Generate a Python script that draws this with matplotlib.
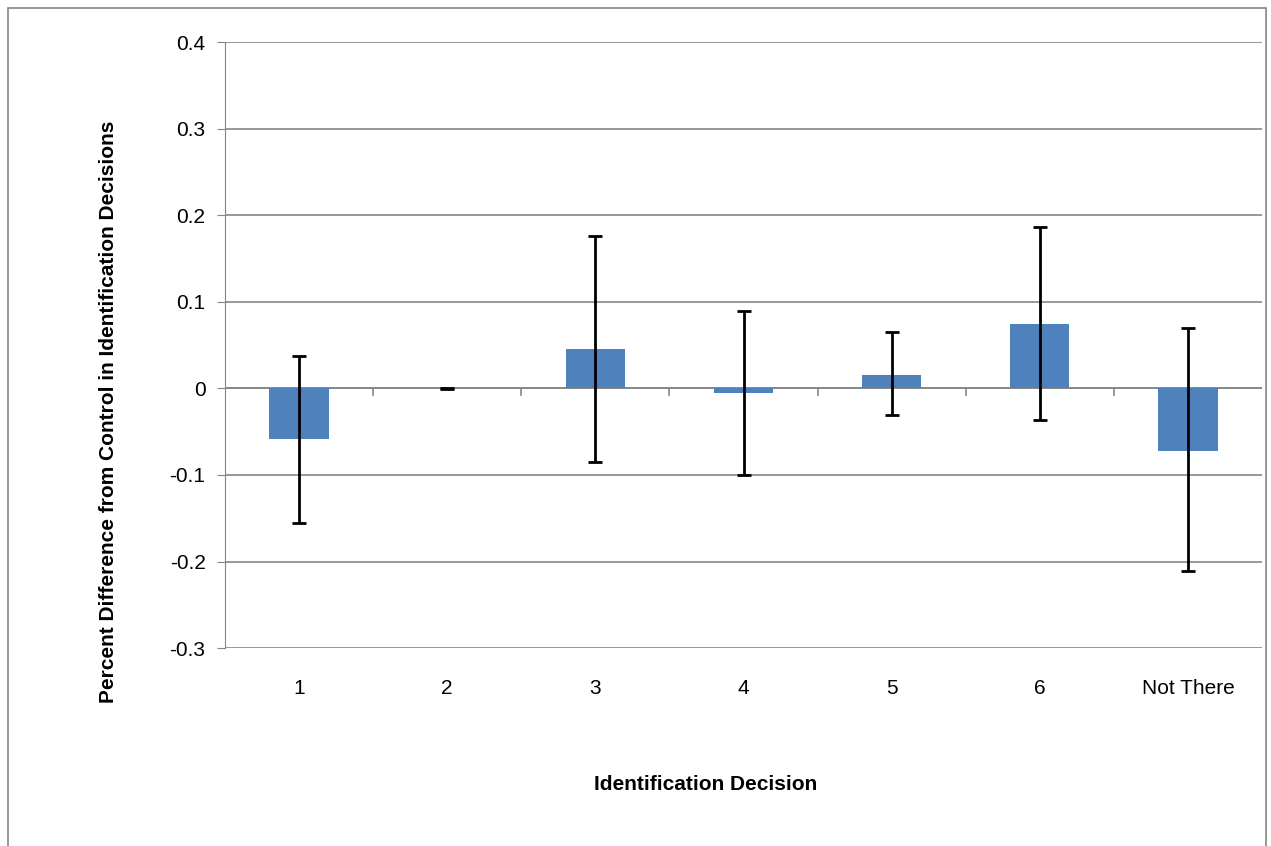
import matplotlib
matplotlib.use("Agg")
import matplotlib.pyplot as plt
import numpy as np

categories = ["1", "2", "3", "4", "5", "6", "Not There"]
values = [-0.059, 0.0, 0.045, -0.005, 0.016, 0.074, -0.072]
err_low = [-0.156, -0.001, -0.085, -0.100, -0.031, -0.037, -0.211]
err_high = [0.037, 0.001, 0.176, 0.090, 0.065, 0.186, 0.070]

plt.rcParams['font.family'] = ['Liberation Sans', 'DejaVu Sans']
fig = plt.figure(figsize=(12.71, 8.46), dpi=100)
ax = fig.add_axes([0.177, 0.234, 0.816, 0.716])
x = np.arange(len(categories))
v = np.array(values)
yerr = [v - np.array(err_low), np.array(err_high) - v]
ax.bar(x, v, width=0.4, color='#4F81BD', zorder=3)
ax.errorbar(x, v, yerr=yerr, fmt='none', ecolor='black', elinewidth=2, capsize=5, capthick=2, zorder=4)
ax.set_xlim(-0.5, len(categories) - 0.5)
ax.set_ylim(-0.3, 0.4)
ax.set_yticks(np.arange(-0.3, 0.41, 0.1))
ax.set_yticklabels(["-0.3", "-0.2", "-0.1", "0", "0.1", "0.2", "0.3", "0.4"])
ax.yaxis.grid(True, color='#868686', linewidth=1.2, zorder=0)
ax.axhline(0, color='#868686', linewidth=1.2, zorder=2)
for s in ['top', 'right', 'bottom']:
    ax.spines[s].set_visible(False)
ax.spines['left'].set_color('#868686')
ax.set_xticks(x)
ax.set_xticklabels(categories)
ax.tick_params(axis='x', length=0, pad=22, labelsize=15)
ax.tick_params(axis='y', labelsize=15, color='#868686', length=6, pad=8)
for xi in np.arange(0.5, len(categories) - 0.5, 1.0):
    ax.plot([xi, xi], [0, -0.008], color='#868686', lw=1.2, zorder=2, clip_on=False)
ax.set_xlabel("Identification Decision", fontsize=15, fontweight='bold')
ax.set_ylabel("Percent Difference from Control in Identification Decisions", fontsize=15, fontweight='bold')
ax.xaxis.set_label_coords(0.463, -0.21)
ax.yaxis.set_label_coords(-0.103, 0.39)
fig.add_artist(plt.Rectangle((0.006, -0.01), 0.99, 1.0, fill=False, edgecolor='#868686', lw=1.2, transform=fig.transFigure))
fig.savefig("out.png", dpi=100)
